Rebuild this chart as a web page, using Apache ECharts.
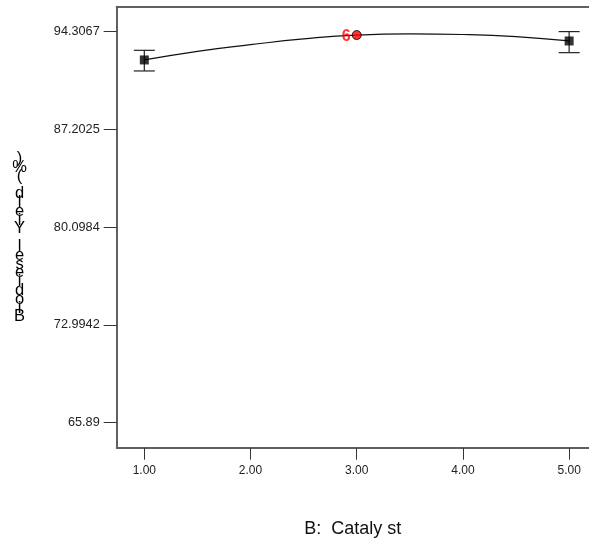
<!DOCTYPE html>
<html>
<head>
<meta charset="utf-8">
<script src="https://cdn.jsdelivr.net/npm/echarts@6/dist/echarts.min.js"></script>
<style>
html,body{margin:0;padding:0;background:#fff;}
#c{width:589px;height:546px;}
</style>
</head>
<body>
<div id="c"></div>
<script>
// ---- data ----
const xTicks = [1, 2, 3, 4, 5];
const yTicks = [65.89, 72.9942, 80.0984, 87.2025, 94.3067];
const yTickLabels = ['65.89', '72.9942', '80.0984', '87.2025', '94.3067'];

const curveX = [1, 1.5, 2, 2.5, 3, 3.5, 4, 4.5, 5];
const curveY = [92.25, 92.88, 93.36, 93.78, 94.06, 94.14, 94.10, 93.95, 93.63];

const designX = [1, 5];
const designY = [92.25, 93.63];
const errLow = [91.45, 92.78];
const errHigh = [92.95, 94.31];

const centerX = [3];
const centerY = [94.06];
const centerLabel = ['6'];

const xTitle = 'B:  Cataly st';
const yTitle = 'Biodiesel Yield (%)';

// ---- chart ----
const FONT = "'Liberation Sans', Arial, sans-serif";
const chart = echarts.init(document.getElementById('c'), null, {renderer: 'canvas'});

const axisGray = '#606060';

const option = {
  animation: false,
  backgroundColor: '#ffffff',
  grid: {left: 116.7, right: 0, top: 6.7, bottom: 98.3, containLabel: false},
  xAxis: [
    {
      type: 'value', position: 'bottom', min: 0.74, max: 5.187,
      splitLine: {show: false},
      axisLine: {show: true, onZero: false, lineStyle: {color: axisGray, width: 2}},
      axisTick: {show: true, inside: false, length: 12, customValues: xTicks, lineStyle: {color: '#333', width: 1}},
      axisLabel: {show: true, customValues: xTicks, margin: 17, fontSize: 12, fontFamily: FONT, color: '#222',
        formatter: v => Number(v).toFixed(2)},
      name: xTitle, nameLocation: 'middle', nameGap: 72,
      nameTextStyle: {fontSize: 18, fontFamily: FONT, color: '#111'}
    },
    {
      type: 'value', position: 'top', min: 0.74, max: 5.187,
      splitLine: {show: false},
      axisLine: {show: true, onZero: false, lineStyle: {color: axisGray, width: 2}},
      axisTick: {show: false}, axisLabel: {show: false}
    }
  ],
  yAxis: {
    type: 'value', min: 64.07, max: 96.12,
    splitLine: {show: false},
    axisLine: {show: true, onZero: false, lineStyle: {color: axisGray, width: 2}},
    axisTick: {show: true, inside: false, length: 13, customValues: yTicks, lineStyle: {color: '#333', width: 1}},
    axisLabel: {show: true, customValues: yTicks, margin: 17, fontSize: 12.7, fontFamily: FONT, color: '#222',
      formatter: v => {
        let best = 0;
        yTicks.forEach((t, i) => { if (Math.abs(t - v) < Math.abs(yTicks[best] - v)) best = i; });
        return yTickLabels[best];
      }}
  },
  graphic: [
    {
      type: 'text', x: 19.5, y: 154,
      style: {
        text: yTitle.split('').reverse().join('\n'),
        fontSize: 16.5, fontFamily: FONT, fill: '#000',
        lineHeight: 8.8, align: 'center', verticalAlign: 'top'
      }
    }
  ],
  series: [
    {
      type: 'line', xAxisIndex: 0, smooth: true, showSymbol: false, z: 2,
      lineStyle: {color: '#111', width: 1.2},
      data: curveX.map((x, i) => [x, curveY[i]])
    },
    {
      type: 'custom', xAxisIndex: 0, z: 3,
      renderItem: function (params, api) {
        const x = api.value(0);
        const lo = api.coord([x, api.value(1)]);
        const hi = api.coord([x, api.value(2)]);
        const hw = 10.5;
        const st = {stroke: '#222', lineWidth: 1.2};
        return {
          type: 'group',
          children: [
            {type: 'line', shape: {x1: lo[0], y1: lo[1], x2: hi[0], y2: hi[1]}, style: st},
            {type: 'line', shape: {x1: lo[0] - hw, y1: lo[1], x2: lo[0] + hw, y2: lo[1]}, style: st},
            {type: 'line', shape: {x1: hi[0] - hw, y1: hi[1], x2: hi[0] + hw, y2: hi[1]}, style: st}
          ]
        };
      },
      data: designX.map((x, i) => [x, errLow[i], errHigh[i]])
    },
    {
      type: 'scatter', xAxisIndex: 0, z: 4,
      symbol: 'rect', symbolSize: 9,
      itemStyle: {color: '#000'},
      data: designX.map((x, i) => [x, designY[i]])
    },
    {
      type: 'scatter', xAxisIndex: 0, z: 5,
      symbol: 'circle', symbolSize: 9,
      itemStyle: {color: '#ff0000', borderColor: '#000', borderWidth: 1},
      label: {show: true, position: 'left', distance: 1, offset: [0, 2], fontSize: 16, fontWeight: 'bold',
        fontFamily: FONT, color: '#ff0000', formatter: p => centerLabel[p.dataIndex]},
      data: centerX.map((x, i) => [x, centerY[i]])
    }
  ]
};
chart.setOption(option);
</script>
</body>
</html>
